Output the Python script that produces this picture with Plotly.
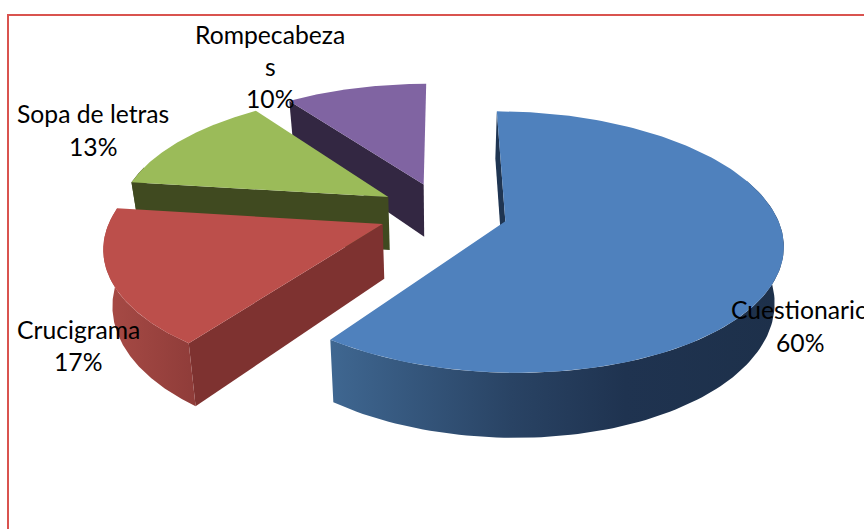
import numpy as np
import plotly.graph_objects as go

categories = ["Cuestionario", "Crucigrama", "Sopa de letras", "Rompecabezas"]
values = [60, 17, 13, 10]
top_colors = ["#4f81bd", "#bc4f4b", "#9bbb59", "#8064a2"]
cut_colors = ["#1f3552", "#7e3230", "#404a20", "#332742"]
wall_scales = [
    [[0, "#3f6791"], [0.4, "#294364"], [0.65, "#1f3350"], [1, "#1d304a"]],
    [[0, "#a84b46"], [1, "#8f3c39"]],
    [[0, "#404a20"], [1, "#404a20"]],
    [[0, "#332742"], [1, "#332742"]],
]
label_lines = [["Cuestionario", "60%"], ["Crucigrama", "17%"], ["Sopa de letras", "13%"], ["Rompecabeza", "s", "10%"]]
label_x = [800, 78, 93, 270]
label_y = [[309, 342], [329, 361], [113, 146], [34, 66, 98]]

CX, CY, RX, RY, PERSP, EXPLODE, DEPTH, TAPER = 443, 212, 270, 124.5, 0.157, 0.24, 54, 0.973


def project(X, Y, low=False):
    s = 1 / (1 - PERSP * np.asarray(Y))
    sx = CX + RX * np.asarray(X) * s
    sy = CY + RY * np.asarray(Y) * s
    if low:
        sx = CX + (sx - CX) * TAPER
        sy = sy + DEPTH * s
    return sx, sy


fig = go.Figure()
edges = np.cumsum([0] + values) / sum(values) * 2 * np.pi
traces_top = []
for i in range(len(values)):
    a0, a1 = edges[i], edges[i + 1]
    mid = (a0 + a1) / 2
    ax, ay = EXPLODE * np.sin(mid), -EXPLODE * np.cos(mid)
    th = np.linspace(a0, a1, 160)
    X = ax + np.sin(th)
    Y = ay - np.cos(th)
    # cut wall at the slice's starting edge
    px, py = project([ax, X[0]], [ay, Y[0]])
    qx, qy = project([ax, X[0]], [ay, Y[0]], low=True)
    item = []
    item.append(go.Scatter(x=[px[0], px[1], qx[1], qx[0], px[0]], y=[py[0], py[1], qy[1], qy[0], py[0]],
                           mode="lines", line=dict(width=0), fill="toself", fillcolor=cut_colors[i], hoverinfo="skip"))
    # outer rim on the front of the disc
    front = (th > np.radians(70)) & (th < np.radians(285))
    if front.sum() > 1:
        tx, ty = project(X[front], Y[front])
        bx, by = project(X[front], Y[front], low=True)
        item.append(go.Scatter(x=np.r_[tx, bx[::-1], tx[0]], y=np.r_[ty, by[::-1], ty[0]],
                               mode="lines", line=dict(width=0), fill="toself",
                               fillgradient=dict(type="horizontal", colorscale=wall_scales[i]), hoverinfo="skip"))
    # top face
    fx, fy = project(np.r_[ax, X, ax], np.r_[ay, Y, ay])
    item.append(go.Scatter(x=fx, y=fy, mode="lines", line=dict(width=0), fill="toself",
                           fillcolor=top_colors[i], hoverinfo="skip", name=categories[i]))
    traces_top.append(item)

for item in reversed(traces_top):
    for t in item:
        fig.add_trace(t)

for lines, x, ys in zip(label_lines, label_x, label_y):
    for text, y in zip(lines, ys):
        fig.add_annotation(x=x, y=y, text=text, showarrow=False, xanchor="center", yanchor="middle",
                           font=dict(family="Lato", size=24.7, color="#000000"))

fig.add_shape(type="rect", xref="paper", yref="paper", x0=8 / 864, x1=1.02, y0=-0.02, y1=1 - 15 / 529,
              line=dict(color="#d9534f", width=2), layer="below")
fig.update_layout(width=864, height=529, margin=dict(l=0, r=0, t=0, b=0), showlegend=False,
                  paper_bgcolor="white", plot_bgcolor="white",
                  xaxis=dict(range=[0, 864], visible=False, fixedrange=True),
                  yaxis=dict(range=[529, 0], visible=False, fixedrange=True))
fig.write_html("out.html", config={"displayModeBar": False},
               post_script="document.body.style.margin='0';")
